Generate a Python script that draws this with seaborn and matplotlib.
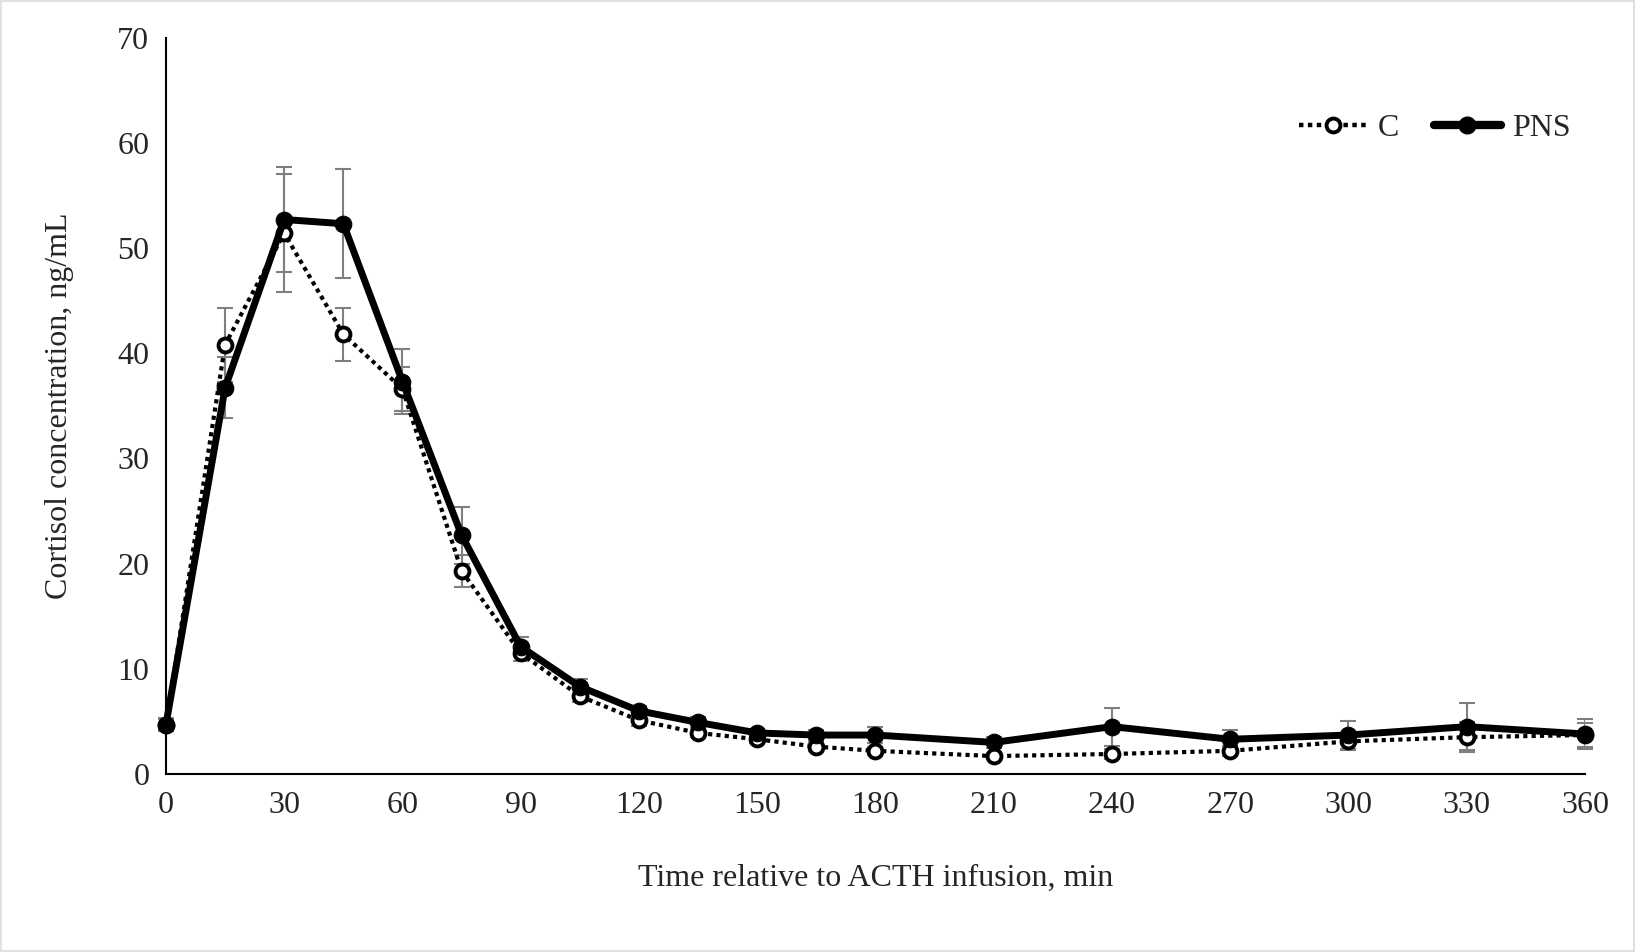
import matplotlib
matplotlib.use("Agg")
import matplotlib.pyplot as plt
import seaborn as sns
import pandas as pd
import numpy as np
from matplotlib.lines import Line2D

time_min = [0, 15, 30, 45, 60, 75, 90, 105, 120, 135, 150, 165, 180, 210, 240, 270, 300, 330, 360]
c_mean = [4.7, 40.8, 51.4, 41.8, 36.6, 19.3, 11.5, 7.4, 5.1, 3.9, 3.3, 2.6, 2.2, 1.7, 1.9, 2.2, 3.1, 3.5, 3.7]
c_sem = [0.6, 3.5, 5.6, 2.5, 2.1, 1.5, 0.8, 0.6, 0.5, 0.4, 0.4, 0.4, 0.4, 0.3, 0.5, 0.5, 0.8, 1.4, 1.1]
pns_mean = [4.7, 36.7, 52.7, 52.3, 37.3, 22.7, 12.1, 8.3, 6.0, 4.9, 3.9, 3.7, 3.7, 3.0, 4.5, 3.3, 3.7, 4.5, 3.8]
pns_sem = [0.5, 2.9, 5.0, 5.2, 3.1, 2.7, 0.9, 0.7, 0.5, 0.5, 0.4, 0.5, 0.8, 0.5, 1.8, 0.9, 1.3, 2.2, 1.4]
x_ticks = [0, 30, 60, 90, 120, 150, 180, 210, 240, 270, 300, 330, 360]
y_ticks = [0, 10, 20, 30, 40, 50, 60, 70]

sns.set_style("white")
plt.rcParams['font.family'] = ['Liberation Serif', 'DejaVu Serif']

df_c = pd.DataFrame({"time": time_min, "cortisol": c_mean})
df_p = pd.DataFrame({"time": time_min, "cortisol": pns_mean})

fig = plt.figure(figsize=(16.35, 9.52), dpi=100)
fig.patch.set_edgecolor("#e0e0e0")
fig.patch.set_linewidth(1.5)
ax = fig.add_axes([0.1015, 0.187, 0.8679, 0.7736])

err_kw = dict(fmt="none", ecolor="#7f7f7f", elinewidth=1.5, capsize=6, capthick=1.5, zorder=1)
ax.errorbar(time_min, c_mean, yerr=c_sem, **err_kw)
ax.errorbar(time_min, pns_mean, yerr=pns_sem, **err_kw)

sns.lineplot(data=df_c, x="time", y="cortisol", ax=ax, color="black", linewidth=3.0,
             marker="o", markersize=10, markerfacecolor="white", markeredgecolor="black",
             markeredgewidth=2.8, zorder=3)
ax.lines[-1].set_dashes([1.0, 1.0])
ax.lines[-1].set_dash_capstyle("butt")
sns.lineplot(data=df_p, x="time", y="cortisol", ax=ax, color="black", linewidth=5,
             marker="o", markersize=12, markerfacecolor="black", markeredgecolor="black",
             zorder=4)

ax.set_xlim(0, 360)
ax.set_ylim(0, 70)
ax.set_xticks(x_ticks)
ax.set_yticks(y_ticks)
ax.tick_params(axis="both", length=0, labelsize=23, pad=12)
for s in ["top", "right"]:
    ax.spines[s].set_visible(False)
for s in ["left", "bottom"]:
    ax.spines[s].set_color("black")
    ax.spines[s].set_linewidth(1.5)
ax.spines["left"].set_zorder(5)
for ln in ax.lines:
    ln.set_clip_on(False)

ax.set_xlabel("Time relative to ACTH infusion, min", fontsize=23, labelpad=32)
ax.set_ylabel("Cortisol concentration, ng/mL", fontsize=23, labelpad=31)

h_c = Line2D([], [], color="black", linewidth=3.2, dashes=[1.0, 1.0], marker="o", markersize=10,
             markerfacecolor="white", markeredgecolor="black", markeredgewidth=2.8)
h_p = Line2D([], [], color="black", linewidth=6, marker="o", markersize=12,
             markerfacecolor="black", solid_capstyle="round")
ax.legend([h_c, h_p], ["C", "PNS"], loc="center right", bbox_to_anchor=(0.99, 0.877), ncol=2,
          frameon=False, fontsize=23, handlelength=2.1, columnspacing=1.1, handletextpad=0.35,
          borderaxespad=0, borderpad=0)

fig.savefig("out.png", dpi=100)
